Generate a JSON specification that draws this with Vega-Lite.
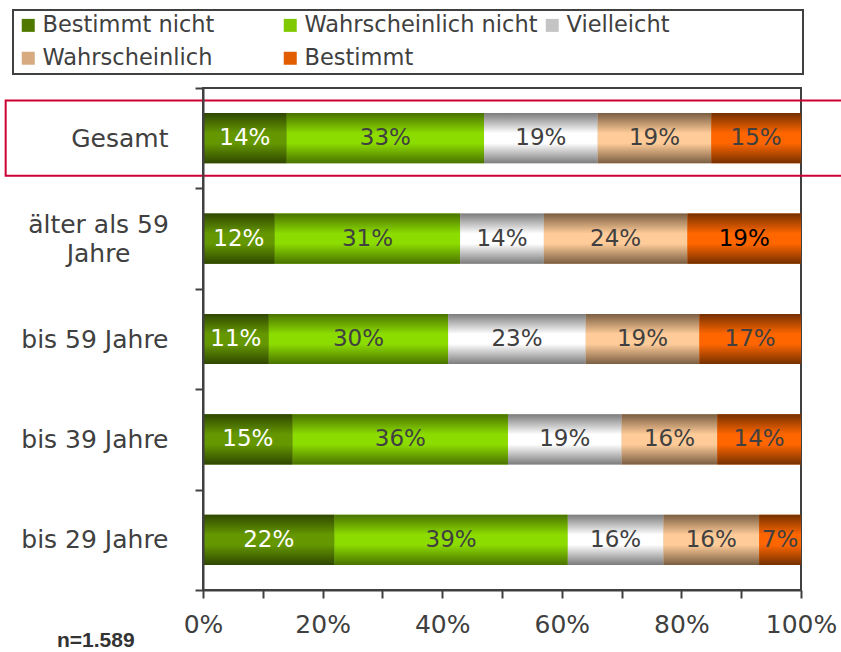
{
  "$schema": "https://vega.github.io/schema/vega-lite/v6.json",
  "width": 598,
  "height": 502,
  "autosize": "none",
  "padding": {"left": 203, "top": 88, "right": 40, "bottom": 62},
  "background": "white",
  "config": {
    "font": "DejaVu Sans",
    "view": {"stroke": "#404040", "strokeWidth": 2},
    "legend": {"strokeWidth": 2}
  },
  "title": {
    "text": "n=1.589",
    "orient": "bottom",
    "anchor": "start",
    "frame": "group",
    "dx": -146,
    "offset": -7,
    "font": "Liberation Sans",
    "fontSize": 21,
    "fontWeight": "bold",
    "color": "#333333"
  },
  "data": {
    "values": [
      {"group": "Gesamt", "cat": "Bestimmt nicht", "pct": 0.14},
      {"group": "Gesamt", "cat": "Wahrscheinlich nicht", "pct": 0.33},
      {"group": "Gesamt", "cat": "Vielleicht", "pct": 0.19},
      {"group": "Gesamt", "cat": "Wahrscheinlich", "pct": 0.19},
      {"group": "Gesamt", "cat": "Bestimmt", "pct": 0.15},
      {"group": "älter als 59 Jahre", "cat": "Bestimmt nicht", "pct": 0.12},
      {"group": "älter als 59 Jahre", "cat": "Wahrscheinlich nicht", "pct": 0.31},
      {"group": "älter als 59 Jahre", "cat": "Vielleicht", "pct": 0.14},
      {"group": "älter als 59 Jahre", "cat": "Wahrscheinlich", "pct": 0.24},
      {"group": "älter als 59 Jahre", "cat": "Bestimmt", "pct": 0.19},
      {"group": "bis 59 Jahre", "cat": "Bestimmt nicht", "pct": 0.11},
      {"group": "bis 59 Jahre", "cat": "Wahrscheinlich nicht", "pct": 0.30},
      {"group": "bis 59 Jahre", "cat": "Vielleicht", "pct": 0.23},
      {"group": "bis 59 Jahre", "cat": "Wahrscheinlich", "pct": 0.19},
      {"group": "bis 59 Jahre", "cat": "Bestimmt", "pct": 0.17},
      {"group": "bis 39 Jahre", "cat": "Bestimmt nicht", "pct": 0.15},
      {"group": "bis 39 Jahre", "cat": "Wahrscheinlich nicht", "pct": 0.36},
      {"group": "bis 39 Jahre", "cat": "Vielleicht", "pct": 0.19},
      {"group": "bis 39 Jahre", "cat": "Wahrscheinlich", "pct": 0.16},
      {"group": "bis 39 Jahre", "cat": "Bestimmt", "pct": 0.14},
      {"group": "bis 29 Jahre", "cat": "Bestimmt nicht", "pct": 0.22},
      {"group": "bis 29 Jahre", "cat": "Wahrscheinlich nicht", "pct": 0.39},
      {"group": "bis 29 Jahre", "cat": "Vielleicht", "pct": 0.16},
      {"group": "bis 29 Jahre", "cat": "Wahrscheinlich", "pct": 0.16},
      {"group": "bis 29 Jahre", "cat": "Bestimmt", "pct": 0.07}
    ]
  },
  "encoding": {
    "y": {
      "field": "group",
      "type": "nominal",
      "sort": ["Gesamt", "älter als 59 Jahre", "bis 59 Jahre", "bis 39 Jahre", "bis 29 Jahre"],
      "scale": {"domain": ["Gesamt", "älter als 59 Jahre", "bis 59 Jahre", "bis 39 Jahre", "bis 29 Jahre"], "paddingInner": 0, "paddingOuter": 0},
      "axis": {
        "title": null,
        "tickBand": "extent",
        "labelFont": "DejaVu Sans",
        "labelFontSize": 25,
        "labelColor": "#404040",
        "labelPadding": {"condition": {"test": "datum.value === 'älter als 59 Jahre'", "value": 97}, "value": 27},
        "labelAlign": {"condition": {"test": "datum.value === 'älter als 59 Jahre'", "value": "center"}, "value": "right"},
        "labelOffset": {"condition": {"test": "datum.value === 'älter als 59 Jahre'", "value": -14.5}, "value": 0},
        "labelLineHeight": 29,
        "labelExpr": "datum.value === 'älter als 59 Jahre' ? ['älter als 59', 'Jahre'] : datum.value",
        "domainColor": "#404040",
        "domainWidth": 2,
        "tickColor": "#404040",
        "tickWidth": 2,
        "tickSize": 8
      }
    }
  },
  "layer": [
    {
      "data": {"values": [{"group": "Gesamt", "from": -0.33, "to": 1.075}]},
      "mark": {"type": "rect", "height": {"band": 0.75}, "fill": "transparent", "stroke": "#cc0033", "strokeWidth": 2, "clip": false},
      "encoding": {
        "x": {"field": "from", "type": "quantitative"},
        "x2": {"field": "to"}
      }
    },
    {
      "transform": [
        {"stack": "pct", "groupby": ["group"], "as": ["x0", "x1"]}
      ],
      "layer": [
        {
          "mark": {"type": "bar", "height": {"band": 0.5}},
          "encoding": {
            "x": {
              "field": "x0",
              "type": "quantitative",
              "scale": {"domain": [0, 1], "nice": false, "clamp": false},
              "axis": {
                "title": null,
                "grid": false,
                "values": [0, 0.1, 0.2, 0.3, 0.4, 0.5, 0.6, 0.7, 0.8, 0.9, 1],
                "format": ".0%",
                "labelExpr": "round(datum.value * 10) % 2 === 0 ? datum.label : ''",
                "labelFont": "DejaVu Sans",
                "labelFontSize": 25,
                "labelColor": "#404040",
                "labelPadding": 14,
                "labelFlush": false,
                "labelOverlap": false,
                "domainColor": "#404040",
                "domainWidth": 2,
                "tickColor": "#404040",
                "tickWidth": 2,
                "tickSize": 8
              }
            },
            "x2": {"field": "x1"},
            "color": {
              "field": "cat",
              "type": "nominal",
              "scale": {
                "domain": ["Bestimmt nicht", "Wahrscheinlich nicht", "Vielleicht", "Wahrscheinlich", "Bestimmt"],
                "range": ["#4f7800", "#80c800", "#c4c4c4", "#d8aa80", "#e25c00"]
              },
              "legend": {
                "title": null,
                "orient": "none",
                "legendX": -190,
                "legendY": -78,
                "direction": "horizontal",
                "columns": 3,
                "gridAlign": "all",
                "columnPadding": 3,
                "rowPadding": 10,
                "padding": 4,
                "strokeColor": "#404040",
                "fillColor": "white",
                "symbolType": "square",
                "symbolSize": 169,
                "symbolStrokeWidth": 0,
                "labelOffset": 3,
                "labelFont": "DejaVu Sans",
                "labelFontSize": 22.5,
                "labelColor": "#404040",
                "labelLimit": 400,
                "labelExpr": "datum.label === 'Vielleicht' ? 'Vielleicht\u00a0\u00a0\u00a0\u00a0\u00a0\u00a0\u00a0\u00a0\u00a0\u00a0\u00a0\u00a0\u00a0\u00a0\u00a0\u00a0\u00a0\u00a0\u200b' : datum.label"
              }
            }
          }
        },
        {
          "mark": {"type": "bar", "height": {"band": 0.5}},
          "encoding": {
            "x": {"field": "x0", "type": "quantitative"},
            "x2": {"field": "x1"},
            "fill": {
              "condition": [
                {"test": "datum.cat === 'Bestimmt nicht'", "value": {"gradient": "linear", "x1": 0, "y1": 0, "x2": 0, "y2": 1, "stops": [{"offset": 0, "color": "#2f4700"}, {"offset": 0.4, "color": "#659800"}, {"offset": 0.6, "color": "#659800"}, {"offset": 1, "color": "#2f4700"}]}},
                {"test": "datum.cat === 'Wahrscheinlich nicht'", "value": {"gradient": "linear", "x1": 0, "y1": 0, "x2": 0, "y2": 1, "stops": [{"offset": 0, "color": "#4a7200"}, {"offset": 0.4, "color": "#8cdc00"}, {"offset": 0.6, "color": "#8cdc00"}, {"offset": 1, "color": "#4a7200"}]}},
                {"test": "datum.cat === 'Vielleicht'", "value": {"gradient": "linear", "x1": 0, "y1": 0, "x2": 0, "y2": 1, "stops": [{"offset": 0, "color": "#7c7c7c"}, {"offset": 0.4, "color": "#ffffff"}, {"offset": 0.6, "color": "#ffffff"}, {"offset": 1, "color": "#7c7c7c"}]}},
                {"test": "datum.cat === 'Wahrscheinlich'", "value": {"gradient": "linear", "x1": 0, "y1": 0, "x2": 0, "y2": 1, "stops": [{"offset": 0, "color": "#7a5e42"}, {"offset": 0.4, "color": "#ffcc99"}, {"offset": 0.6, "color": "#ffcc99"}, {"offset": 1, "color": "#7a5e42"}]}}
              ],
              "value": {"gradient": "linear", "x1": 0, "y1": 0, "x2": 0, "y2": 1, "stops": [{"offset": 0, "color": "#743000"}, {"offset": 0.4, "color": "#ff6600"}, {"offset": 0.6, "color": "#ff6600"}, {"offset": 1, "color": "#743000"}]}
            }
          }
        },
        {
          "transform": [
            {"fold": ["x0", "x1"], "as": ["edge", "xpos"]},
            {"aggregate": [{"op": "mean", "field": "xpos", "as": "mid"}], "groupby": ["group", "cat", "pct"]}
          ],
          "mark": {"type": "text", "align": "center", "baseline": "middle", "font": "DejaVu Sans", "fontSize": 23},
          "encoding": {
            "x": {"field": "mid", "type": "quantitative"},
            "text": {"field": "pct", "type": "quantitative", "format": ".0%"},
            "color": {
              "condition": [
                {"test": "datum.cat === 'Bestimmt nicht'", "value": "#ffffff"},
                {"test": "datum.group === 'älter als 59 Jahre' && datum.cat === 'Bestimmt'", "value": "#000000"}
              ],
              "value": "#404040"
            }
          }
        }
      ]
    }
  ]
}
